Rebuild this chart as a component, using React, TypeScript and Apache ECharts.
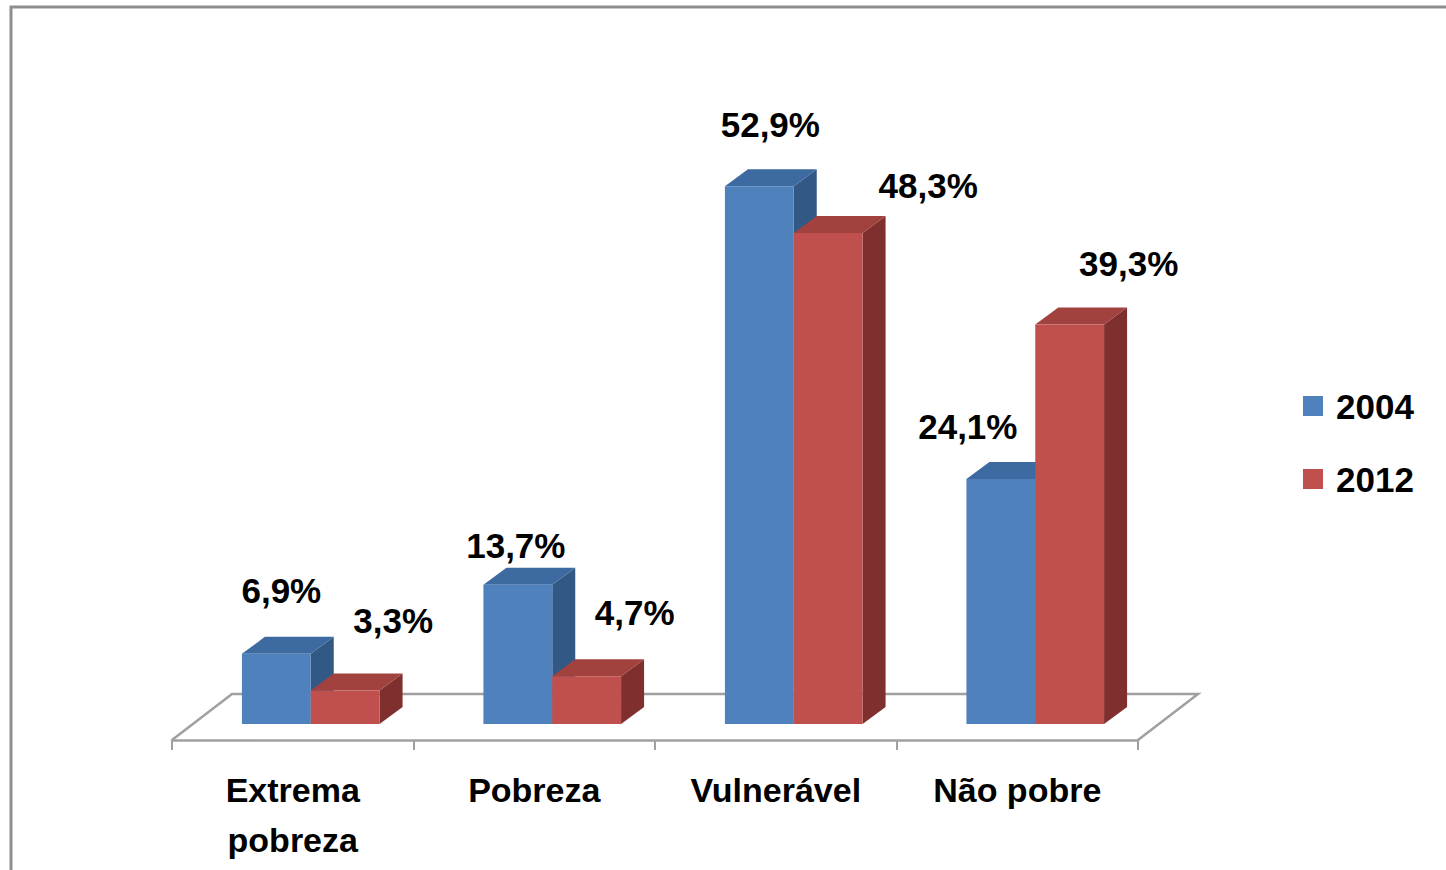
import React, { useEffect, useRef } from "react";
import * as echarts from "echarts";

const categories = ["Extrema\npobreza", "Pobreza", "Vulnerável", "Não pobre"];
const seriesNames = ["2004", "2012"];
const values2004 = [6.9, 13.7, 52.9, 24.1];
const values2012 = [3.3, 4.7, 48.3, 39.3];

// layout: label nudges (dx, dy above bar front top) as placed in the reference
const labelNudge2004 = [[5, 63], [-2, 39], [11, 62], [-33, 52]];
const labelNudge2012 = [[48, 70], [48, 64], [100, 47], [59, 61]];

const FRONT = ["#4f81bd", "#c0504d"];
const TOP = ["#3d6aa0", "#a2423f"];
const SIDE = ["#325986", "#7f302e"];
const FONT = "'Liberation Sans', Arial, sans-serif";

const fmt = (v: number) => v.toFixed(1).replace(".", ",") + "%";

function makeBarSeries(idx: number, vals: number[], nudges: number[][]) {
  return {
    name: seriesNames[idx],
    type: "custom",
    z: 5 + idx,
    itemStyle: { color: FRONT[idx] },
    data: vals.map((v, i) => [i, v]),
    renderItem: (params: any, api: any) => {
      const cat = api.value(0);
      const val = api.value(1);
      const c = api.coord([cat, val]);
      const base = api.coord([cat, 0]);
      const band = api.size([1, 0])[0];
      const bw = band * 0.285;
      const sx = 18, sy = 16;
      const dx = 23, dy = 17;
      const x0 = c[0] + sx - bw + idx * bw;
      const yTop = c[1] - sy;
      const yBot = base[1] - sy;
      const n = nudges[params.dataIndex];
      return {
        type: "group",
        children: [
          {
            type: "polygon",
            shape: { points: [[x0 + bw, yTop], [x0 + bw + dx, yTop - dy], [x0 + bw + dx, yBot - dy], [x0 + bw, yBot]] },
            style: { fill: SIDE[idx] },
          },
          {
            type: "polygon",
            shape: { points: [[x0, yTop], [x0 + bw, yTop], [x0 + bw + dx, yTop - dy], [x0 + dx, yTop - dy]] },
            style: { fill: TOP[idx] },
          },
          {
            type: "rect",
            shape: { x: x0, y: yTop, width: bw, height: yBot - yTop },
            style: { fill: FRONT[idx] },
          },
          {
            type: "text",
            z2: 10,
            x: x0 + bw / 2 + n[0],
            y: yTop - n[1],
            style: {
              text: fmt(val),
              fill: "#000",
              font: `bold 35px ${FONT}`,
              align: "center",
              verticalAlign: "middle",
            },
          },
        ],
      };
    },
  };
}

export default function App() {
  const ref = useRef<HTMLDivElement>(null);
  useEffect(() => {
    const chart = echarts.init(ref.current!, null, { renderer: "svg" });
    chart.setOption({
      animation: false,
      backgroundColor: "#fff",
      graphic: [
        {
          type: "rect",
          shape: { x: 11, y: 7, width: 1500, height: 900 },
          style: { fill: "none", stroke: "#8e8e8e", lineWidth: 3 },
          z: 0,
        },
      ],
      legend: {
        orient: "vertical",
        left: 1298,
        top: 383,
        itemWidth: 20,
        itemHeight: 20,
        itemGap: 37,
        icon: "rect",
        data: seriesNames,
        textStyle: {
          fontFamily: FONT,
          fontWeight: "bold",
          fontSize: 35,
          lineHeight: 36,
          color: "#000",
          padding: [0, 0, 0, 8],
        },
      },
      grid: { left: 172, right: 308, top: 130, bottom: 130 },
      xAxis: {
        type: "category",
        data: categories,
        boundaryGap: true,
        axisLine: { show: true, lineStyle: { color: "#a0a0a0", width: 2.5 } },
        axisTick: { show: true, length: 10, lineStyle: { color: "#a0a0a0", width: 2 } },
        axisLabel: {
          margin: 25,
          fontFamily: FONT,
          fontWeight: "bold",
          fontSize: 34,
          lineHeight: 50,
          color: "#000",
          interval: 0,
        },
        splitLine: { show: false },
      },
      yAxis: {
        type: "value",
        min: 0,
        max: 60,
        show: false,
        splitLine: { show: false },
      },
      series: [
        {
          name: "floor",
          type: "custom",
          z: 1,
          silent: true,
          data: [[0, 0]],
          renderItem: (params: any) => {
            const cs = params.coordSys;
            const yF = cs.y + cs.height;
            const yB = yF - 46;
            const ox = 60;
            return {
              type: "polyline",
              shape: {
                points: [[cs.x, yF], [cs.x + ox, yB], [cs.x + cs.width + ox, yB], [cs.x + cs.width, yF]],
              },
              style: { stroke: "#a0a0a0", lineWidth: 2.5, fill: "none" },
            };
          },
        },
        makeBarSeries(0, values2004, labelNudge2004),
        makeBarSeries(1, values2012, labelNudge2012),
      ],
    });
    return () => chart.dispose();
  }, []);
  return (
    <div
      ref={ref}
      style={{ position: "fixed", left: 0, top: 0, width: 1446, height: 870 }}
    />
  );
}
